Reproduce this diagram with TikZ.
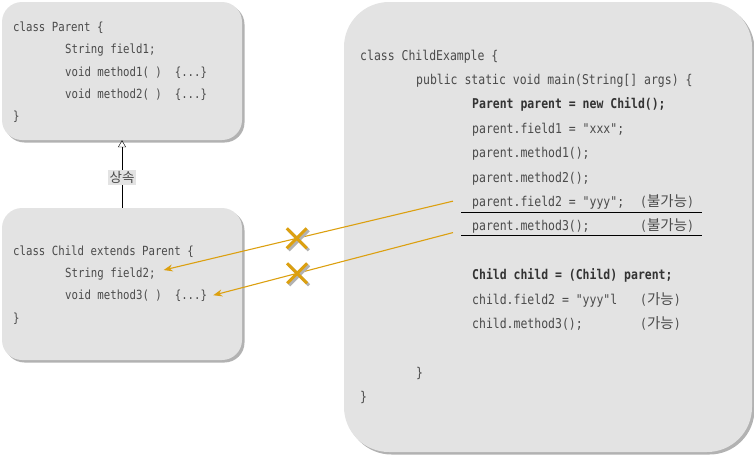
\documentclass[tikz,border=0pt]{standalone}
\usepackage{fontspec}
\setmonofont{DejaVu Sans Mono}[FakeStretch=0.85]
\newfontfamily\krfont{Noto Sans CJK KR}
\usetikzlibrary{positioning, shapes.misc, shadows, arrows.meta}
\definecolor{boxgray}{HTML}{E3E3E3}
\definecolor{codegray}{HTML}{4A4A4A}
\definecolor{arrorange}{HTML}{DCA010}
\tikzstyle{codebox} = [rectangle, rounded corners=20pt, fill=boxgray, draw=none, drop shadow={shadow xshift=2.5pt, shadow yshift=-2.5pt, fill=black!30, opacity=1}]
\tikzstyle{code} = [anchor=base west, inner sep=0pt, text=codegray, font=\ttfamily\fontsize{13.5}{16}\selectfont]
\tikzstyle{smallcode} = [code, font=\ttfamily\fontsize{12.6}{15}\selectfont]
\tikzstyle{bold code} = [code, text=black!80, font=\ttfamily\bfseries\fontsize{13.5}{16}\selectfont]
\tikzstyle{note} = [code, font=\ttfamily\fontsize{13.5}{16}\selectfont]
\tikzstyle{inherit} = [-{Triangle[open, width=8pt, length=7pt]}, black]
\tikzstyle{arrow} = [arrorange, line width=1.1pt, -{Stealth[length=9pt, width=7pt]}]
\tikzstyle{xmark} = [cross out, draw=arrorange, line width=3pt, minimum size=17pt, inner sep=0pt]
\tikzstyle{xshadow} = [xmark, draw=black!30]

\begin{document}
\begin{tikzpicture}[x=1pt, y=-1pt]
\useasboundingbox (0,0) rectangle (754,455);

% boxes
\node (parent) [codebox, minimum width=240pt, minimum height=138pt] at (122,71) {};
\node (child) [codebox, minimum width=240pt, minimum height=152pt] at (122,284) {};
\node (main) [codebox, rounded corners=45pt, minimum width=408pt, minimum height=450pt] at (548,227) {};

% class Parent
\node (p1) [smallcode] at (13,31) {class Parent \{};
\node (p2) [smallcode] at (65,53) {String field1;};
\node (p3) [smallcode] at (65,76) {void method1(~)~~\{...\}};
\node (p4) [smallcode] at (65,98) {void method2(~)~~\{...\}};
\node (p5) [smallcode] at (13,120) {\}};

% class Child
\node (c1) [smallcode] at (13,255) {class Child extends Parent \{};
\node (cf2) [smallcode] at (65,277) {String field2;};
\node (cm3) [smallcode] at (65,299) {void method3(~)~~\{...\}};
\node (c4) [smallcode] at (13,322) {\}};

% class ChildExample
\node (m1) [code] at (360,60) {class ChildExample \{};
\node (m2) [code] at (416,84.4) {public static void main(String[] args) \{};
\node (m3) [bold code] at (472,108.8) {Parent parent = new Child();};
\node (m4) [code] at (472,133.2) {parent.field1 = "xxx";};
\node (m5) [code] at (472,157.6) {parent.method1();};
\node (m6) [code] at (472,182) {parent.method2();};
\node (pf2) [code] at (472,206.4) {parent.field2 = "yyy";};
\node (pf2note) [note] at (640,206.4) {({\krfont\fontsize{14.5}{16}\selectfont 불가능})};
\node (pm3) [code] at (472,230.8) {parent.method3();};
\node (pm3note) [note] at (640,230.8) {({\krfont\fontsize{14.5}{16}\selectfont 불가능})};
\node (m9) [bold code] at (472,279.6) {Child child = (Child) parent;};
\node (m10) [code] at (472,304) {child.field2 = "yyy"l};
\node (m10note) [note] at (640,304) {({\krfont\fontsize{14.5}{16}\selectfont 가능})};
\node (m11) [code] at (472,328.4) {child.method3();};
\node (m11note) [note] at (640,328.4) {({\krfont\fontsize{14.5}{16}\selectfont 가능})};
\node (m12) [code] at (416,377.2) {\}};
\node (m13) [code] at (360,401.6) {\}};

% underlines
\draw [black, line width=0.9pt] (461,212) -- (702,212);
\draw [black, line width=0.9pt] (461,235.5) -- (702,235.5);

% inheritance
\draw [inherit] (child.north) -- node[pos=0.45, fill=boxgray, inner sep=1.5pt, text=codegray, font=\krfont\fontsize{13.5}{15}\selectfont] (inh) {상속} (parent.south);

% not accessible
\draw [arrow] ([xshift=-19pt, yshift=1.5pt]pf2.west) -- node[pos=0.54, xshadow, xshift=2pt, yshift=-2pt] {} node[pos=0.54, xmark] (x1) {} ([xshift=8pt, yshift=3.5pt]cf2.east);
\draw [arrow] ([xshift=-19pt, yshift=-5.5pt]pm3.west) -- node[pos=0.65, xshadow, xshift=2pt, yshift=-2pt] {} node[pos=0.65, xmark] (x2) {} ([xshift=6pt]cm3.east);
\end{tikzpicture}
\end{document}
